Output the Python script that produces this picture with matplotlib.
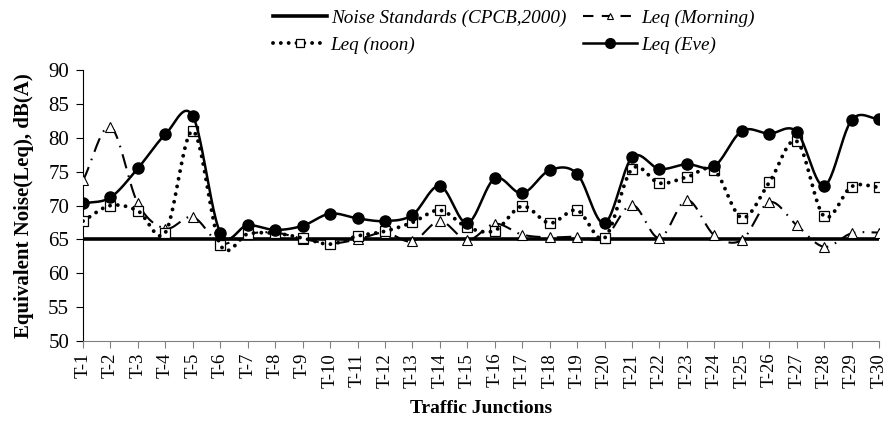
import numpy as np
import matplotlib
matplotlib.use("Agg")
import matplotlib.pyplot as plt

# junction labels
junctions = ["T-%d" % i for i in range(1, 31)]

# noise levels, dB(A)
standard = [65] * 30
leq_morning = [73.7, 81.6, 70.3, 66.6, 68.3, 64.4, 65.8, 66.0, 65.1, 64.4,
               65.0, 66.0, 64.7, 67.7, 64.9, 67.3, 65.7, 65.3, 65.4, 65.2,
               70.1, 65.2, 70.8, 65.6, 64.9, 70.5, 67.1, 63.9, 65.9, 66.0]
leq_noon = [67.7, 70.0, 69.2, 66.0, 81.0, 64.2, 65.8, 65.9, 65.2, 64.3,
            65.5, 66.2, 67.5, 69.3, 66.8, 66.3, 69.9, 67.4, 69.3, 65.2,
            75.4, 73.3, 74.2, 75.2, 68.2, 73.4, 79.5, 68.4, 72.8, 72.7]
leq_eve = [70.3, 71.2, 75.5, 80.5, 83.2, 66.0, 67.1, 66.4, 67.0, 68.8,
           68.1, 67.7, 68.6, 72.9, 67.4, 74.0, 71.8, 75.2, 74.7, 67.4,
           77.1, 75.4, 76.1, 75.8, 81.0, 80.6, 80.9, 72.9, 82.6, 82.8]


def smooth(x, y, n=24):
    # catmull-rom curve through the points, like excel's "smoothed line"
    x = np.asarray(x, float)
    y = np.asarray(y, float)
    px = np.concatenate([[2 * x[0] - x[1]], x, [2 * x[-1] - x[-2]]])
    py = np.concatenate([[2 * y[0] - y[1]], y, [2 * y[-1] - y[-2]]])
    t = np.linspace(0, 1, n, endpoint=False)
    xs, ys = [], []
    for i in range(1, len(px) - 2):
        for p, out in ((px, xs), (py, ys)):
            p0, p1, p2, p3 = p[i - 1], p[i], p[i + 1], p[i + 2]
            out.extend(0.5 * (2 * p1 + (-p0 + p2) * t
                              + (2 * p0 - 5 * p1 + 4 * p2 - p3) * t ** 2
                              + (-p0 + 3 * p1 - 3 * p2 + p3) * t ** 3))
    xs.append(x[-1])
    ys.append(y[-1])
    return np.array(xs), np.array(ys)


plt.rcParams['font.family'] = ['Liberation Serif', 'DejaVu Serif']

fig = plt.figure(figsize=(8.87, 4.24), dpi=100)
ax = fig.add_axes([0.0936, 0.1958, 0.8974, 0.639])

x = np.arange(len(junctions))

ax.plot(x, standard, color="black", lw=2.6, zorder=2)

mx, my = smooth(x, leq_morning)
ax.plot(mx, my, color="black", lw=1.5, linestyle=(0, (7, 3.5, 0.8, 3.5)), zorder=3)
ax.plot(x, leq_morning, linestyle="none", marker="^", ms=7, mfc="white",
        mec="black", mew=0.8, zorder=4)

nx, ny = smooth(x, leq_noon)
ax.plot(x, leq_noon, linestyle="none", marker="s", ms=7, mfc="white",
        mec="black", mew=0.9, zorder=5)
ax.plot(nx, ny, color="black", lw=2.8, linestyle=(0, (0.01, 2.0)),
        dash_capstyle="round", zorder=6)

ex, ey = smooth(x, leq_eve)
ax.plot(ex, ey, color="black", lw=1.8, zorder=7)
ax.plot(x, leq_eve, linestyle="none", marker="o", ms=8, color="black", zorder=8)

# legend proxies
h_std, = ax.plot([], [], color="black", lw=2.6)
h_mor, = ax.plot([], [], color="black", lw=1.5, linestyle=(0, (5, 4)),
                 marker="^", ms=5, mfc="white", mec="black", mew=0.8)
h_noon, = ax.plot([], [], color="black", lw=2.8, linestyle=(0, (0.01, 2.0)),
                  dash_capstyle="round", marker="s", ms=6, mfc="white",
                  mec="black", mew=0.9)
h_eve, = ax.plot([], [], color="black", lw=1.8, marker="o", ms=7)

leg = fig.legend([h_std, h_noon, h_mor, h_eve],
                 ["Noise Standards (CPCB,2000)", "Leq (noon)",
                  "Leq (Morning)", "Leq (Eve)"],
                 ncol=2, loc="upper left", bbox_to_anchor=(0.308, 0.978),
                 frameon=False, borderpad=0, borderaxespad=0,
                 handlelength=2.8, columnspacing=0.9,
                 handletextpad=0.2, labelspacing=0.5,
                 prop={"style": "italic", "size": 13.8})

ax.set_xlim(0, len(junctions) - 1)
ax.set_ylim(50, 90)
ax.set_yticks(np.arange(50, 91, 5))
ax.set_xticks(x)
ax.set_xticklabels(junctions, rotation=90)
ax.tick_params(axis="both", direction="out", length=5)
ax.tick_params(axis="x", labelsize=13.5, color="#808080")
ax.tick_params(axis="y", labelsize=15, pad=5)

ax.spines["top"].set_visible(False)
ax.spines["right"].set_visible(False)
ax.spines["bottom"].set_color("#808080")

ax.set_ylabel("Equivalent Noise(Leq), dB(A)", fontsize=15, fontweight="bold",
              labelpad=10)
ax.set_xlabel("Traffic Junctions", fontsize=14, fontweight="bold", labelpad=9)

fig.savefig("out.png", dpi=100)
